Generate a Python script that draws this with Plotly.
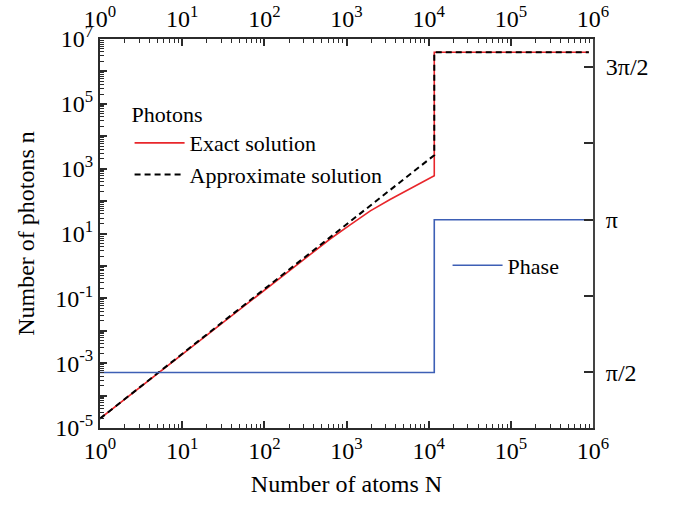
import math
import numpy as np
import plotly.graph_objects as go

# ---- data ----
exact_N = [1, 10, 100, 316, 631, 1096, 1950, 3388, 5888, 11700, 11700, 890000]
exact_n = [1.95e-5, 1.9e-3, 1.82e-1, 1.74, 6.76, 18.2, 50.1, 112, 240, 603, 3.9e6, 3.9e6]

approx_N = [1, 11700, 11700, 890000]
approx_n = [1.95e-5, 2.6e3, 3.9e6, 3.9e6]

phase_N = [1, 11700, 11700, 890000]
phase_val = [math.pi / 2, math.pi / 2, math.pi, math.pi]

x_tick_exps = [0, 1, 2, 3, 4, 5, 6]
y_tick_exps = list(range(-5, 8))
y_label_exps = [-5, -3, -1, 1, 3, 5, 7]
phase_ticks = [math.pi / 2, 3 * math.pi / 4, math.pi, 5 * math.pi / 4, 3 * math.pi / 2]
phase_labels = ["π/2", "", "π", "", "3π/2"]

FONT = "Liberation Serif"
AX = "#2b2b2b"
TICK = 24

def minor_vals(lo, hi):
    return [k * 10.0 ** e for e in range(lo, hi) for k in range(2, 10)]

fig = go.Figure()
fig.add_trace(go.Scatter(x=exact_N, y=exact_n, mode="lines", name="Exact solution",
                         line=dict(color="#e8262b", width=1.6), legend="legend"))
fig.add_trace(go.Scatter(x=approx_N, y=approx_n, mode="lines", name="Approximate solution",
                         line=dict(color="black", width=2, dash="6px,4px"), legend="legend"))
fig.add_trace(go.Scatter(x=phase_N, y=phase_val, mode="lines", name="Phase",
                         line=dict(color="#3d5fb5", width=1.6), legend="legend2",
                         xaxis="x2", yaxis="y2"))

xticktext = [f"10<sup>{e}</sup>" for e in x_tick_exps]
xtickvals = [10.0 ** e for e in x_tick_exps]

common_x = dict(type="log", range=[0, 6], tickvals=xtickvals, ticktext=xticktext,
                ticks="inside", ticklen=7, tickwidth=1.5, tickcolor=AX, automargin=False,
                showline=True, linecolor=AX, linewidth=2, showgrid=False, zeroline=False,
                tickfont=dict(family=FONT, size=TICK, color="black"),
                minor=dict(tickvals=minor_vals(0, 6), ticks="inside", ticklen=4,
                           tickwidth=1, tickcolor=AX))

fig.update_layout(
    width=674, height=506,
    margin=dict(l=100, r=81, t=39, b=78),
    plot_bgcolor="white", paper_bgcolor="white",
    font=dict(family=FONT, size=22, color="black"),
    xaxis=dict(**common_x, side="bottom", anchor="y",
               title=dict(text="Number of atoms N", font=dict(family=FONT, size=24), standoff=12)),
    xaxis2=dict(**common_x, side="top", overlaying="x", anchor="y2"),
    yaxis=dict(type="log", range=[-5, 7], side="left", anchor="x", automargin=False,
               tickvals=[10.0 ** e for e in y_tick_exps],
               ticktext=[f"10<sup>{e}</sup>" if e in y_label_exps else "" for e in y_tick_exps],
               ticks="inside", ticklen=7, tickwidth=1.5, tickcolor=AX,
               showline=True, linecolor=AX, linewidth=2, showgrid=False, zeroline=False,
               tickfont=dict(family=FONT, size=TICK, color="black"),
               minor=dict(tickvals=minor_vals(-5, 7), ticks="inside", ticklen=4,
                          tickwidth=1, tickcolor=AX),
               title=dict(text="Number of photons n", font=dict(family=FONT, size=24), standoff=14)),
    yaxis2=dict(range=[1, 5], side="right", overlaying="y", anchor="x2", automargin=False,
                tickvals=phase_ticks, ticktext=phase_labels, ticklabelstandoff=6,
                ticks="inside", ticklen=9, tickwidth=1.5, tickcolor=AX,
                showline=True, linecolor="#444444", linewidth=2, showgrid=False, zeroline=False,
                tickfont=dict(family=FONT, size=TICK, color="black")),
    legend=dict(x=0.06, y=0.86, xanchor="left", yanchor="top",
                bgcolor="rgba(0,0,0,0)", font=dict(family=FONT, size=22),
                title=dict(text="Photons", font=dict(family=FONT, size=22)),
                itemwidth=50, tracegroupgap=0),
    legend2=dict(x=0.705, y=0.472, xanchor="left", yanchor="top",
                 bgcolor="rgba(0,0,0,0)", font=dict(family=FONT, size=22), itemwidth=50),
    showlegend=True,
)

fig.write_html("out.html")
